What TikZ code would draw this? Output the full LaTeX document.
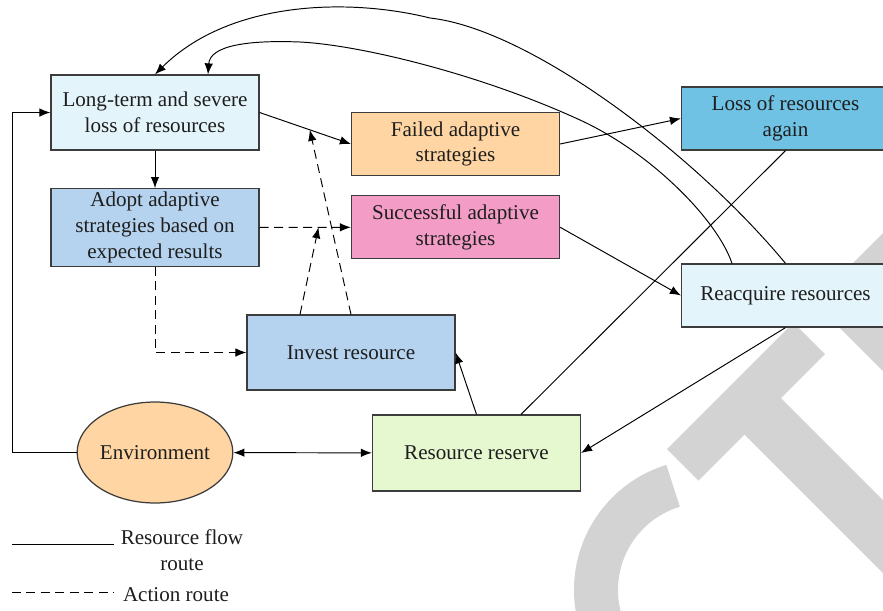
\documentclass[tikz,border=0pt]{standalone}
\usepackage{fontspec}
\setmainfont{Liberation Serif}
\usepackage{tikz}
\usetikzlibrary{positioning,arrows.meta,shapes.geometric}
\definecolor{boxline}{RGB}{60,60,60}
\definecolor{ink}{RGB}{30,30,30}
\definecolor{palecyan}{RGB}{227,244,251}
\definecolor{midblue}{RGB}{181,211,238}
\definecolor{peach}{RGB}{254,213,163}
\definecolor{rose}{RGB}{242,156,198}
\definecolor{skyblue}{RGB}{111,194,227}
\definecolor{palegreen}{RGB}{229,248,208}
\definecolor{wmgray}{RGB}{211,211,211}
\tikzset{box/.style={rectangle,draw=boxline,line width=0.7pt,minimum width=4.16cm,minimum height=1.5cm,
		align=center,inner sep=2pt,text=ink,font=\fontsize{12}{14.6}\selectfont},
	 lowbox/.style={box,minimum height=1.26cm},
	 oval/.style={ellipse,draw=boxline,line width=0.7pt,minimum width=3.06cm,minimum height=2.02cm,
		inner sep=0pt,text=ink,font=\fontsize{12}{14.6}\selectfont},
	 legend/.style={text=ink,align=center,inner sep=1pt,font=\fontsize{12}{14.6}\selectfont},
	 >={Latex[length=2.2mm,width=1.7mm]},
	 flow/.style={->,line width=0.55pt},
	 plain/.style={line width=0.55pt},
	 act/.style={->,line width=0.55pt,dash pattern=on 1.8mm off 1.1mm},
	 wm/.style={fill=wmgray}
	 }

\begin{document}
\begin{tikzpicture}[x=0.02cm,y=-0.02cm] % resource loss and adaptation
	\useasboundingbox (0,0) rectangle (883,610);
	\clip (0,0) rectangle (883,610);
	% watermark
	\fill[wm] (667,449) -- (793.5,322.5) -- (825,354) -- (698.5,480.5) -- cycle;
	\fill[wm] (730,420) -- (766.5,383.5) -- (1091.5,708.5) -- (1055,745) -- cycle;
	\fill[wm] (814,302) -- (1158,-42) -- (1500,300) -- (1156,644) -- cycle;
	\draw[wmgray,line width=0.88cm] (673.1,485.8) arc[start angle=107,end angle=200,radius=2.18cm];
	% nodes
	\node[box,fill=palecyan] (loss) at (155,112.5) {Long-term and severe\\loss of resources};
	\node[box,fill=midblue,minimum height=1.52cm] (adopt) [below=0.75cm of loss] {Adopt adaptive\\strategies based on\\expected results};
	\node[lowbox,fill=peach] (failed) at (455.5,144) {Failed adaptive\\strategies};
	\node[lowbox,fill=rose] (success) [below=0.38cm of failed] {Successful adaptive\\strategies};
	\node[lowbox,fill=skyblue] (again) at (785.5,118.5) {Loss of resources\\again};
	\node[lowbox,fill=palecyan] (reacq) at (785.5,295.5) {Reacquire resources};
	\node[box,fill=midblue] (invest) at (351,352.5) {Invest resource};
	\node[box,fill=palegreen,minimum height=1.52cm] (reserve) at (476.5,453) {Resource reserve};
	\node[oval,fill=peach] (env) at (155,452.5) {Environment};
	\path (loss.east) -- coordinate[pos=0.55] (hit1) (failed.west);
	\path (adopt.east) -- coordinate[pos=0.645] (hit2) (success.west);
	% resource flow
	\draw[flow] (loss) to (adopt);
	\draw[flow] (loss.east) to (failed.west);
	\draw[flow] (failed.east) to (again.west);
	\draw[flow] (success.east) to (reacq.west);
	\draw[flow] (reacq.south) to (reserve.east);
	\draw[flow] (reserve.north) to (invest.east);
	\draw[plain] ([xshift=0.89cm]reserve.north) to (again.south);
	\draw[<->,line width=0.55pt] (env) to (reserve);
	\draw[flow] (env.west) -- ++(-64,0) |- (loss.west);
	\draw[flow] (reacq.north) .. controls (695,154) and (530,29) .. (430,18)
		.. controls (350,-2) and (230,0) .. (loss.north);
	\draw[flow] ([xshift=-1.07cm]reacq.north) .. controls (717,219) and (650,152) .. (580,120)
		.. controls (480,74) and (360,45) .. (300,42)
		.. controls (250,40) and (210,45) .. ([xshift=1.06cm]loss.north);
	% action
	\draw[act] (adopt) to (success);
	\draw[act] (adopt.south) |- (invest.west);
	\draw[act] (invest.north) to (hit1);
	\draw[act] ([xshift=-1.02cm]invest.north) to (hit2);
	% legend
	\coordinate (lgA) at (12,544);
	\coordinate (lgB) at (114,544);
	\coordinate (lgC) at (12,592);
	\coordinate (lgD) at (114,592);
	\node[legend] (lgflow) at (182,550) {Resource flow\\route};
	\node[legend] (lgact) at (176,595) {Action route};
	\draw[plain] (lgA) to (lgB);
	\draw[plain,dash pattern=on 1.8mm off 1.1mm] (lgC) to (lgD);
\end{tikzpicture}
\end{document}
